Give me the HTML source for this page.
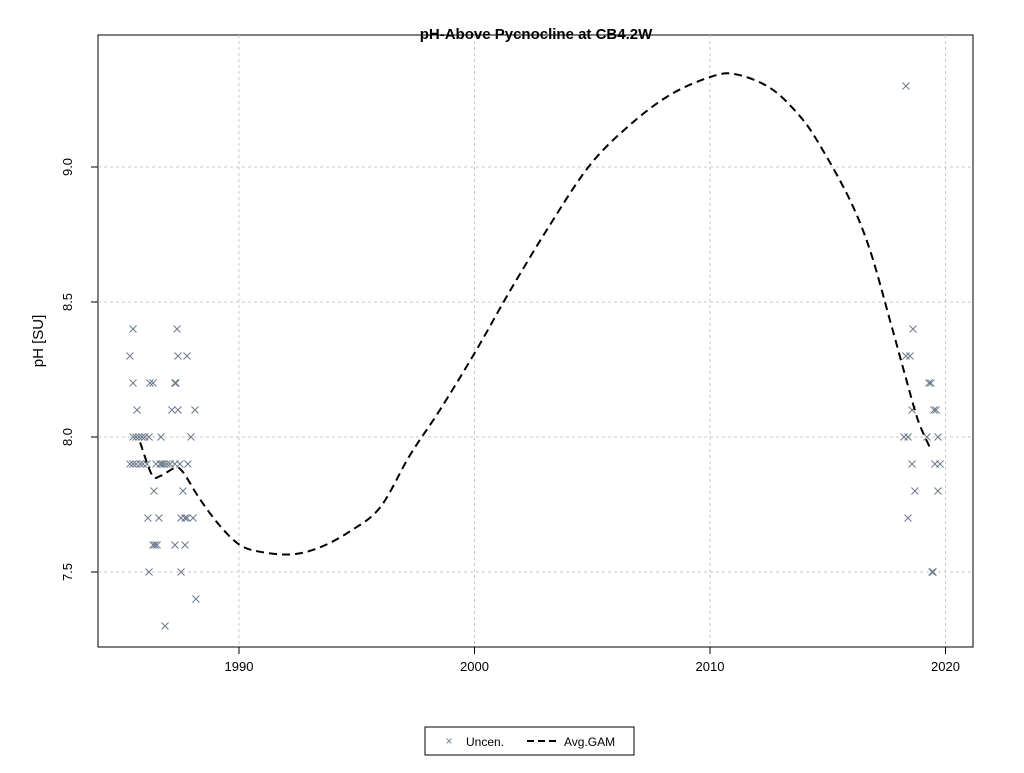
<!DOCTYPE html>
<html><head><meta charset="utf-8"><style>
body{margin:0;background:#fff;font-family:"Liberation Sans",Arial,sans-serif}
</style></head><body>
<svg id="c" width="1024" height="768" xmlns="http://www.w3.org/2000/svg">
<text x="536" y="39" text-anchor="middle" font-size="15" font-weight="bold">pH-Above Pycnocline at CB4.2W</text>
<rect x="98" y="35" width="875" height="612" fill="none" stroke="#000"/>
<text transform="translate(43,341) rotate(-90)" text-anchor="middle" font-size="15">pH [SU]</text>
<g id="grid"></g><g id="axes"></g><g id="pts"></g><g id="line"></g>
<g>
<rect x="425" y="727" width="209" height="28" fill="#fff" stroke="#000"/>
<text x="449" y="745" text-anchor="middle" font-size="12" fill="#6c7a8c">×</text>
<text x="466" y="746" font-size="12">Uncen.</text>
<line x1="527" y1="741" x2="557" y2="741" stroke="#000" stroke-width="2" stroke-dasharray="7,4"/>
<text x="564" y="746" font-size="12">Avg.GAM</text>
</g>
</svg>
<script>
const xTicks=[1990,2000,2010,2020];
const yTicks=[7.5,8.0,8.5,9.0];
const ptYears=[1985.5,1987.37,1985.37,1987.41,1987.79,1985.5,1986.22,1986.35,1987.28,1987.32,1985.67,1987.15,1987.41,1988.13,
1985.5,1985.63,1985.75,1985.88,1986.0,1986.18,1986.69,1987.96,
1985.37,1985.5,1985.63,1985.8,1985.92,1986.09,1986.48,1986.65,1986.73,1986.82,1986.94,1987.07,1987.28,1987.49,1987.83,
1986.39,1987.62,1986.13,1986.6,1987.54,1987.71,1987.79,1988.05,1986.35,1986.43,1986.52,1987.28,1987.71,1986.18,1987.54,1988.17,1986.86,
2018.32,2018.62,2018.32,2018.49,2019.3,2019.38,2018.58,2019.51,2019.6,2018.24,2018.41,2019.21,2019.68,2018.58,2019.55,2019.77,2018.7,2019.68,2018.41,2019.43,2019.47];
const ptVals=[8.4,8.4,8.3,8.3,8.3,8.2,8.2,8.2,8.2,8.2,8.1,8.1,8.1,8.1,
8.0,8.0,8.0,8.0,8.0,8.0,8.0,8.0,
7.9,7.9,7.9,7.9,7.9,7.9,7.9,7.9,7.9,7.9,7.9,7.9,7.9,7.9,7.9,
7.8,7.8,7.7,7.7,7.7,7.7,7.7,7.7,7.6,7.6,7.6,7.6,7.6,7.5,7.5,7.4,7.3,
9.3,8.4,8.3,8.3,8.2,8.2,8.1,8.1,8.1,8.0,8.0,8.0,8.0,7.9,7.9,7.9,7.8,7.8,7.7,7.5,7.5];
const gamYears=[1985.8,1986.3,1986.65,1987.28,1987.62,1988.34,1989.2,1990.04,1990.9,1992.2,1993.4,1994.7,1996.0,1997.26,1998.53,2000,2001.5,2003.2,2004.9,2006.6,2008.3,2010,2011.06,2012.55,2013.8,2014.67,2015.94,2016.79,2017.64,2018.28,2018.83,2019.34];
const gamVals=[7.98,7.86,7.855,7.885,7.87,7.77,7.67,7.6,7.575,7.565,7.59,7.65,7.74,7.933,8.1,8.31,8.54,8.785,9.007,9.156,9.267,9.333,9.344,9.293,9.19,9.08,8.878,8.693,8.433,8.23,8.063,7.96];
const X=y=>239+(y-1990)*23.55, Y=v=>437-(v-8)*270;
const NS="http://www.w3.org/2000/svg";
function mk(t,a,p){const e=document.createElementNS(NS,t);for(const k in a)e.setAttribute(k,a[k]);p.appendChild(e);return e;}
const g=document.getElementById('grid'),ax=document.getElementById('axes'),pg=document.getElementById('pts'),lg=document.getElementById('line');
xTicks.forEach(t=>{const x=X(t);
let l=mk('line',{x1:x,y1:35,x2:x,y2:647,stroke:'#c8c8c8','stroke-dasharray':'3,3'},g);

let tk=mk('line',{x1:x,y1:647,x2:x,y2:654,stroke:'#000'},ax);

let tx=mk('text',{x:x,y:671,'text-anchor':'middle','font-size':13},ax);tx.textContent=t;
});
yTicks.forEach(t=>{const y=Y(t);
let l=mk('line',{x1:98,y1:y,x2:973,y2:y,stroke:'#c8c8c8','stroke-dasharray':'3,3'},g);

let tk=mk('line',{x1:91,y1:y,x2:98,y2:y,stroke:'#000'},ax);

let tx=mk('text',{transform:`translate(72,${y}) rotate(-90)`,'text-anchor':'middle','font-size':13},ax);tx.textContent=t.toFixed(1);
});
ptYears.forEach((yr,i)=>{const x=X(yr),y=Y(ptVals[i]),s=3.5;
let p=mk('path',{d:`M${x-s},${y-s}L${x+s},${y+s}M${x-s},${y+s}L${x+s},${y-s}`,stroke:'#6c7a8c','stroke-width':1,fill:'none'},pg);
});
const P=gamYears.map((yr,i)=>[X(yr),Y(gamVals[i])]);
let d='M'+P[0][0].toFixed(1)+','+P[0][1].toFixed(1);
for(let i=0;i<P.length-1;i++){const p0=P[Math.max(0,i-1)],p1=P[i],p2=P[i+1],p3=P[Math.min(P.length-1,i+2)];
const c1=[p1[0]+(p2[0]-p0[0])/6,p1[1]+(p2[1]-p0[1])/6],c2=[p2[0]-(p3[0]-p1[0])/6,p2[1]-(p3[1]-p1[1])/6];
d+=`C${c1[0].toFixed(1)},${c1[1].toFixed(1)} ${c2[0].toFixed(1)},${c2[1].toFixed(1)} ${p2[0].toFixed(1)},${p2[1].toFixed(1)}`;}
let pl=mk('path',{d:d,fill:'none',stroke:'#000','stroke-width':2,'stroke-dasharray':'8,5'},lg);

</script>
</body></html>
